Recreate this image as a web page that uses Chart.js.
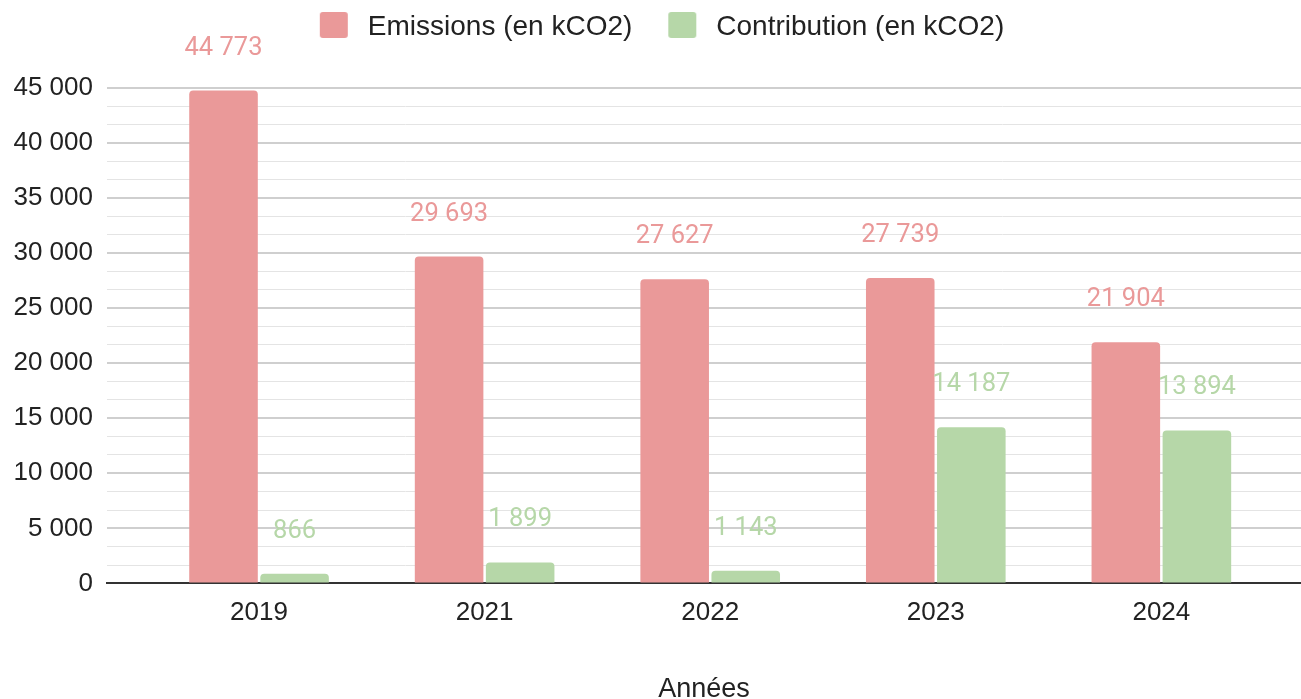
<!DOCTYPE html>
<html>
<head>
<meta charset="utf-8">
<script src="https://cdn.jsdelivr.net/npm/chart.js@4"></script>
<style>
    body { margin: 0; background: #fff; }
</style>
</head>
<body>
<canvas id="co2Chart" width="1301" height="699"></canvas>
<script>
const years = ["2019", "2021", "2022", "2023", "2024"];
const emissions = [44773, 29693, 27627, 27739, 21904];
const contributions = [866, 1899, 1143, 14187, 13894];
const seriesNames = ["Emissions (en kCO2)", "Contribution (en kCO2)"];
const seriesColors = ["#ea9999", "#b6d7a8"];
const yMajorTicks = [0, 5000, 10000, 15000, 20000, 25000, 30000, 35000, 40000, 45000];
const minorPerMajor = 3;

// thousands with a space, like "45 000"
const fmt = (v) => String(Math.round(v)).replace(/\B(?=(\d{3})+(?!\d))/g, " ");

const yTicks = [];
yMajorTicks.forEach((v, i) => {
    yTicks.push(v);
    if (i < yMajorTicks.length - 1) {
        const step = (yMajorTicks[i + 1] - v) / minorPerMajor;
        for (let k = 1; k < minorPerMajor; k++) yTicks.push(v + step * k);
    }
});
const isMajor = (v) => yMajorTicks.some((m) => Math.abs(m - v) < 1e-6);

// legend square with some empty room on its left (and a bit below)
function legendIcon(color) {
    const c = document.createElement("canvas");
    c.width = 57;
    c.height = 30;
    const g = c.getContext("2d");
    g.fillStyle = color;
    g.beginPath();
    g.roundRect(23, 0, 28, 26, 3);
    g.fill();
    return c;
}

const valueLabels = {
    id: "valueLabels",
    afterDatasetsDraw(chart) {
        const ctx = chart.ctx;
        ctx.save();
        ctx.font = "25.5px Roboto";
        ctx.textAlign = "center";
        ctx.textBaseline = "alphabetic";
        chart.data.datasets.forEach((ds, di) => {
            const meta = chart.getDatasetMeta(di);
            ctx.fillStyle = seriesColors[di];
            meta.data.forEach((bar, i) => {
                ctx.fillText(fmt(ds.data[i].y), bar.x, bar.y - 36);
            });
        });
        ctx.restore();
    },
};

Chart.defaults.font.family = '"Liberation Sans", Arial, sans-serif';
Chart.defaults.color = "#222";

new Chart(document.getElementById("co2Chart"), {
    type: "bar",
    data: {
        datasets: [
            {
                label: seriesNames[0],
                data: emissions.map((v, i) => ({ x: i, y: v })),
                backgroundColor: seriesColors[0],
                borderRadius: 4,
            },
            {
                label: seriesNames[1],
                data: contributions.map((v, i) => ({ x: i, y: v })),
                backgroundColor: seriesColors[1],
                borderRadius: 4,
            },
        ],
    },
    options: {
        responsive: false,
        animation: false,
        categoryPercentage: 0.63,
        barPercentage: 0.965,
        layout: { padding: 0 },
        plugins: {
            tooltip: { enabled: false },
            legend: {
                position: "top",
                labels: {
                    font: { size: 28 },
                    color: "#222",
                    padding: 13,
                    usePointStyle: true,
                    pointStyleWidth: 57,
                    boxHeight: 26,
                    generateLabels: (chart) => {
                        const items = Chart.defaults.plugins.legend.labels.generateLabels(chart);
                        items.forEach((it, i) => (it.pointStyle = legendIcon(seriesColors[i])));
                        return items;
                    },
                },
            },
        },
        scales: {
            x: {
                type: "linear",
                offset: false,
                min: -0.674,
                max: 4.619,
                grid: { display: false, drawTicks: false },
                border: { display: true, color: "#333", width: 2 },
                afterBuildTicks: (scale) => {
                    scale.ticks = years.map((_, i) => ({ value: i }));
                },
                ticks: {
                    autoSkip: false,
                    padding: 14,
                    font: { size: 26 },
                    color: "#222",
                    callback: (v) => years[v],
                },
                title: {
                    display: true,
                    text: "Années",
                    font: { size: 27 },
                    color: "#222",
                    padding: { top: 31, bottom: -7 },
                },
            },
            y: {
                min: 0,
                max: 48364,
                border: { display: false },
                afterBuildTicks: (scale) => {
                    scale.ticks = yTicks.map((v) => ({ value: v }));
                },
                afterFit: (scale) => {
                    scale.width = 107;
                },
                grid: {
                    drawTicks: false,
                    color: (c) => (c.tick.value === 0 ? "#333" : isMajor(c.tick.value) ? "#cfcfcf" : "#e4e4e4"),
                    lineWidth: (c) => (isMajor(c.tick.value) ? 2 : 1),
                },
                ticks: {
                    autoSkip: false,
                    padding: 14,
                    font: { size: 26 },
                    color: "#222",
                    callback: (v) => (isMajor(v) ? fmt(v) : ""),
                },
            },
        },
    },
    plugins: [valueLabels],
});
</script>
</body>
</html>
